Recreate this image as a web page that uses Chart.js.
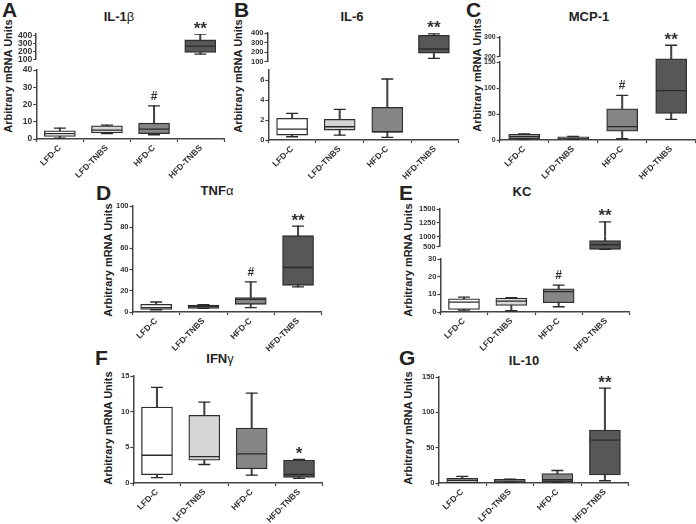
<!DOCTYPE html>
<html>
<head>
<meta charset="utf-8">
<script src="https://cdn.jsdelivr.net/npm/chart.js@4"></script>
<style>
body { margin:0; width:696px; height:524px; position:relative; overflow:hidden; background:#fff;
       font-family:"Liberation Sans", Arial, sans-serif; color:#222; }
canvas { position:absolute; }
.letter { position:absolute; font-weight:bold; font-size:21px; line-height:1; }
.title { position:absolute; font-weight:bold; font-size:13px; line-height:1; white-space:nowrap; transform:translateX(-50%); }
.title span { font-weight:normal; }
.ylab { position:absolute; font-weight:bold; font-size:11px; line-height:1; white-space:nowrap;
        transform:translate(-50%,-50%) rotate(-90deg); }
</style>
</head>
<body>
<div class="letter" style="left:2px;top:-1px">A</div>
<div class="letter" style="left:234px;top:-1px">B</div>
<div class="letter" style="left:466px;top:-1px">C</div>
<div class="letter" style="left:96px;top:182px">D</div>
<div class="letter" style="left:399px;top:182px">E</div>
<div class="letter" style="left:95px;top:347px">F</div>
<div class="letter" style="left:399px;top:347px">G</div>

<div class="title" style="left:119px;top:10px">IL-1<span>β</span></div>
<div class="title" style="left:352px;top:10px">IL-6</div>
<div class="title" style="left:589px;top:10px">MCP-1</div>
<div class="title" style="left:217px;top:184px">TNF<span>α</span></div>
<div class="title" style="left:522px;top:185px">KC</div>
<div class="title" style="left:220px;top:352px">IFN<span>γ</span></div>
<div class="title" style="left:524px;top:354px">IL-10</div>

<div class="ylab" style="left:8px;top:76px">Arbitrary mRNA Units</div>
<div class="ylab" style="left:238px;top:76px">Arbitrary mRNA Units</div>
<div class="ylab" style="left:477px;top:75px">Arbitrary mRNA Units</div>
<div class="ylab" style="left:108px;top:260px">Arbitrary mRNA Units</div>
<div class="ylab" style="left:408px;top:260px">Arbitrary mRNA Units</div>
<div class="ylab" style="left:108px;top:428px">Arbitrary mRNA Units</div>
<div class="ylab" style="left:408px;top:428px">Arbitrary mRNA Units</div>

<script>
// groups
var categories = ['LFD-C', 'LFD-TNBS', 'HFD-C', 'HFD-TNBS'];

// each box: [min, q1, median, q3, max]
var il1bBoxes = [[0.6, 1.5, 3.1, 4.8, 6.3], [3.1, 3.5, 5.2, 7.7, 8.1], [2.5, 3.1, 5.8, 9.2, 19.2], [170, 192, 271, 350, 425]];
var il1bMarks = ['', '', '#', '**'];
var il1bTicksUpper = [100, 200, 300, 400];
var il1bTicksLower = [0, 10, 20, 30, 40];

var il6Boxes = [[0.33, 0.5, 1.1, 2.17, 2.67], [0.5, 1.0, 1.33, 2.07, 3.07], [0.27, 0.77, 0.85, 3.27, 6.1], [134, 190, 233, 375, 390]];
var il6Marks = ['', '', '', '**'];
var il6TicksUpper = [100, 200, 300, 400];
var il6TicksLower = [0, 2, 4, 6];

var mcp1Boxes = [[1, 2.5, 6.4, 10.8, 12], [2, 2, 3.8, 6.4, 7], [2.5, 17, 26, 60, 86], [39.6, 51, 95, 156, 258]];
var mcp1Marks = ['', '', '#', '**'];
var mcp1TicksUpper = [200, 300];
var mcp1TicksLower = [0, 50, 100, 150];

var tnfaBoxes = [[2.2, 2.5, 4.1, 7.3, 9.5], [3.5, 3.5, 5, 6.6, 7], [4.1, 7.3, 12, 13.6, 28.4], [23.7, 25.2, 42, 72, 81]];
var tnfaMarks = ['', '', '#', '**'];
var tnfaTicks = [0, 20, 40, 60, 80, 100];

var kcBoxes = [[1.1, 1.5, 5.6, 7.5, 8.4], [0.75, 3.75, 6.2, 7.9, 8.1], [3.0, 5.25, 11.6, 13.1, 15.2], [360, 365, 600, 815, 1268]];
var kcMarks = ['', '', '#', '**'];
var kcTicksUpper = [1000, 1250, 1500];
var kcTicksMiddle = [500];
var kcTicksLower = [0, 10, 20, 30];

var ifngBoxes = [[0.75, 1.17, 3.9, 10.65, 13.4], [2.6, 3.2, 3.7, 9.5, 11.35], [1.1, 2.0, 4.1, 7.7, 12.6], [0.65, 0.8, 1.2, 3.2, 3.3]];
var ifngMarks = ['', '', '', '*'];
var ifngTicks = [0, 5, 10, 15];

var il10Boxes = [[0, 0.5, 3.8, 6.6, 9.4], [1, 1, 2.8, 5.2, 5.6], [1, 1.9, 4.7, 13.6, 17.8], [3.3, 11.7, 60.6, 74.8, 134.4]];
var il10Marks = ['', '', '', '**'];
var il10Ticks = [0, 50, 100, 150];

var fills = ['#ffffff', '#d6d6d6', '#858585', '#575757'];

// where each panel's plot area sits, segments listed top to bottom
var panels = [
  { boxes: il1bBoxes, marks: il1bMarks, x0: 36, w: 188, ySize: 8.5, segs: [
    { min: 100, max: 425, ticks: il1bTicksUpper, top: 34, bottom: 60 },
    { min: 0, max: 40, ticks: il1bTicksLower, top: 70, bottom: 139.5, clipTop: 10, showX: true } ] },
  { boxes: il6Boxes, marks: il6Marks, x0: 268, w: 190, ySize: 7.5, segs: [
    { min: 100, max: 400, ticks: il6TicksUpper, top: 33, bottom: 62 },
    { min: 0, max: 7, ticks: il6TicksLower, top: 70, bottom: 140, clipTop: 8, showX: true } ] },
  { boxes: mcp1Boxes, marks: mcp1Marks, x0: 500, w: 196, ySize: 7, segs: [
    { min: 200, max: 300, ticks: mcp1TicksUpper, top: 36.7, bottom: 56.7 },
    { min: 0, max: 150, ticks: mcp1TicksLower, top: 62.3, bottom: 140.7, clipTop: 5.6, showX: true } ] },
  { boxes: tnfaBoxes, marks: tnfaMarks, x0: 133, w: 189, ySize: 7.5, segs: [
    { min: 0, max: 100, ticks: tnfaTicks, top: 206, bottom: 311.7, showX: true } ] },
  { boxes: kcBoxes, marks: kcMarks, x0: 440, w: 189, ySize: 7.5, segs: [
    { min: 1000, max: 1500, ticks: kcTicksUpper, top: 209.3, bottom: 237.3 },
    { min: 500, max: 1000, ticks: kcTicksMiddle, top: 237.3, bottom: 247.3, clipBottom: 4 },
    { min: 0, max: 30, ticks: kcTicksLower, top: 259.3, bottom: 312.7, clipTop: 12, showX: true } ] },
  { boxes: ifngBoxes, marks: ifngMarks, x0: 133, w: 189, ySize: 7.5, segs: [
    { min: 0, max: 15, ticks: ifngTicks, top: 375.7, bottom: 482.7, showX: true } ] },
  { boxes: il10Boxes, marks: il10Marks, x0: 439, w: 190, ySize: 7.5, segs: [
    { min: 0, max: 150, ticks: il10Ticks, top: 376.7, bottom: 483, showX: true } ] }
];

function capLine(values, radius, order, clip) {
  return {
    type: 'line', data: values, showLine: false, pointStyle: 'line',
    pointRadius: radius, pointBorderWidth: 1.3, pointBorderColor: '#2a2a2a',
    pointBackgroundColor: '#2a2a2a', order: order, clip: clip
  };
}

function boxDatasets(boxes, s) {
  var clip = { left: 20, right: 20, top: s.clipTop || 0, bottom: s.clipBottom || 0 };
  return [
    capLine(boxes.map(function (b) { return b[2]; }), 15, 1, clip),
    capLine(boxes.map(function (b) { return b[4]; }), 6, 1, clip),
    capLine(boxes.map(function (b) { return b[0]; }), 6, 1, clip),
    { type: 'bar', data: boxes.map(function (b) { return [b[1], b[3]]; }),
      backgroundColor: fills, borderColor: '#2e2e2e', borderWidth: 1.3, borderSkipped: false,
      barThickness: 31, grouped: false, order: 2, clip: clip },
    { type: 'bar', data: boxes.map(function (b) { return [b[0], b[4]]; }),
      backgroundColor: '#444', borderWidth: 0, barThickness: 1.4, grouped: false, order: 3, clip: clip }
  ];
}

function markPlugin(p) {
  return {
    id: 'marks',
    afterDatasetsDraw: function (chart) {
      var ctx = chart.ctx, xs = chart.scales.x, ys = chart.scales.y, area = chart.chartArea;
      p.marks.forEach(function (m, i) {
        if (!m) return;
        var y = ys.getPixelForValue(p.boxes[i][4]);
        if (y < area.top - 1 || y > area.bottom + 1) return;
        var x = xs.getPixelForValue(i);
        ctx.save();
        ctx.fillStyle = '#333';
        ctx.textAlign = 'center';
        ctx.textBaseline = 'alphabetic';
        if (m.indexOf('#') >= 0) {
          ctx.font = 'bold 12px "Liberation Sans"';
          ctx.fillText(m, x, y - 6);
        } else {
          ctx.font = 'bold 17px "Liberation Sans"';
          ctx.fillText(m, x, y - 0.5);
        }
        ctx.restore();
      });
    }
  };
}

function makeConfig(p, s) {
  var grid = { display: true, drawOnChartArea: false, drawTicks: true, tickLength: 3, tickColor: '#444', tickWidth: 1.2 };
  var border = { display: true, color: '#444', width: 1.5 };
  return {
    type: 'bar',
    data: { labels: categories, datasets: boxDatasets(p.boxes, s) },
    options: {
      responsive: false, maintainAspectRatio: false, animation: false, events: [],
      layout: { padding: { top: 24, right: 12, left: 0, bottom: s.showX ? 0 : 8 } },
      plugins: { legend: { display: false }, tooltip: { enabled: false } },
      scales: {
        x: {
          display: !!s.showX, offset: true, grid: grid, border: border,
          ticks: { font: { family: 'Liberation Sans', size: 8.5, weight: 'bold' }, color: '#333',
                   minRotation: 45, maxRotation: 45, autoSkip: false, padding: 1 }
        },
        y: {
          min: s.min, max: s.max, grid: grid, border: border,
          afterBuildTicks: function (sc) { sc.ticks = s.ticks.map(function (v) { return { value: v }; }); },
          ticks: { font: { family: 'Liberation Sans', size: p.ySize, weight: 'bold' }, color: '#333',
                   padding: 1, autoSkip: false, callback: function (v) { return String(v); } }
        }
      }
    },
    plugins: [markPlugin(p)]
  };
}

function drawSegment(p, s) {
  var canvas = document.createElement('canvas');
  var areaH = s.bottom - s.top;
  var w = p.w + 40, h = Math.round(areaH + 24 + (s.showX ? 44 : 8));
  canvas.width = w; canvas.height = h;
  document.body.appendChild(canvas);
  var chart = new Chart(canvas, makeConfig(p, s));
  var ca = chart.chartArea;
  var dw = Math.round(p.w - (ca.right - ca.left));
  var dh = Math.round(areaH - (ca.bottom - ca.top));
  if (dw || dh) {
    chart.destroy();
    canvas.width = w + dw; canvas.height = h + dh;
    canvas.style.width = (w + dw) + 'px'; canvas.style.height = (h + dh) + 'px';
    chart = new Chart(canvas, makeConfig(p, s));
    ca = chart.chartArea;
  }
  canvas.style.left = Math.round(p.x0 - ca.left) + 'px';
  canvas.style.top = Math.round(s.top - ca.top) + 'px';
}

panels.forEach(function (p) {
  p.segs.forEach(function (s) { drawSegment(p, s); });
});
</script>
</body>
</html>
